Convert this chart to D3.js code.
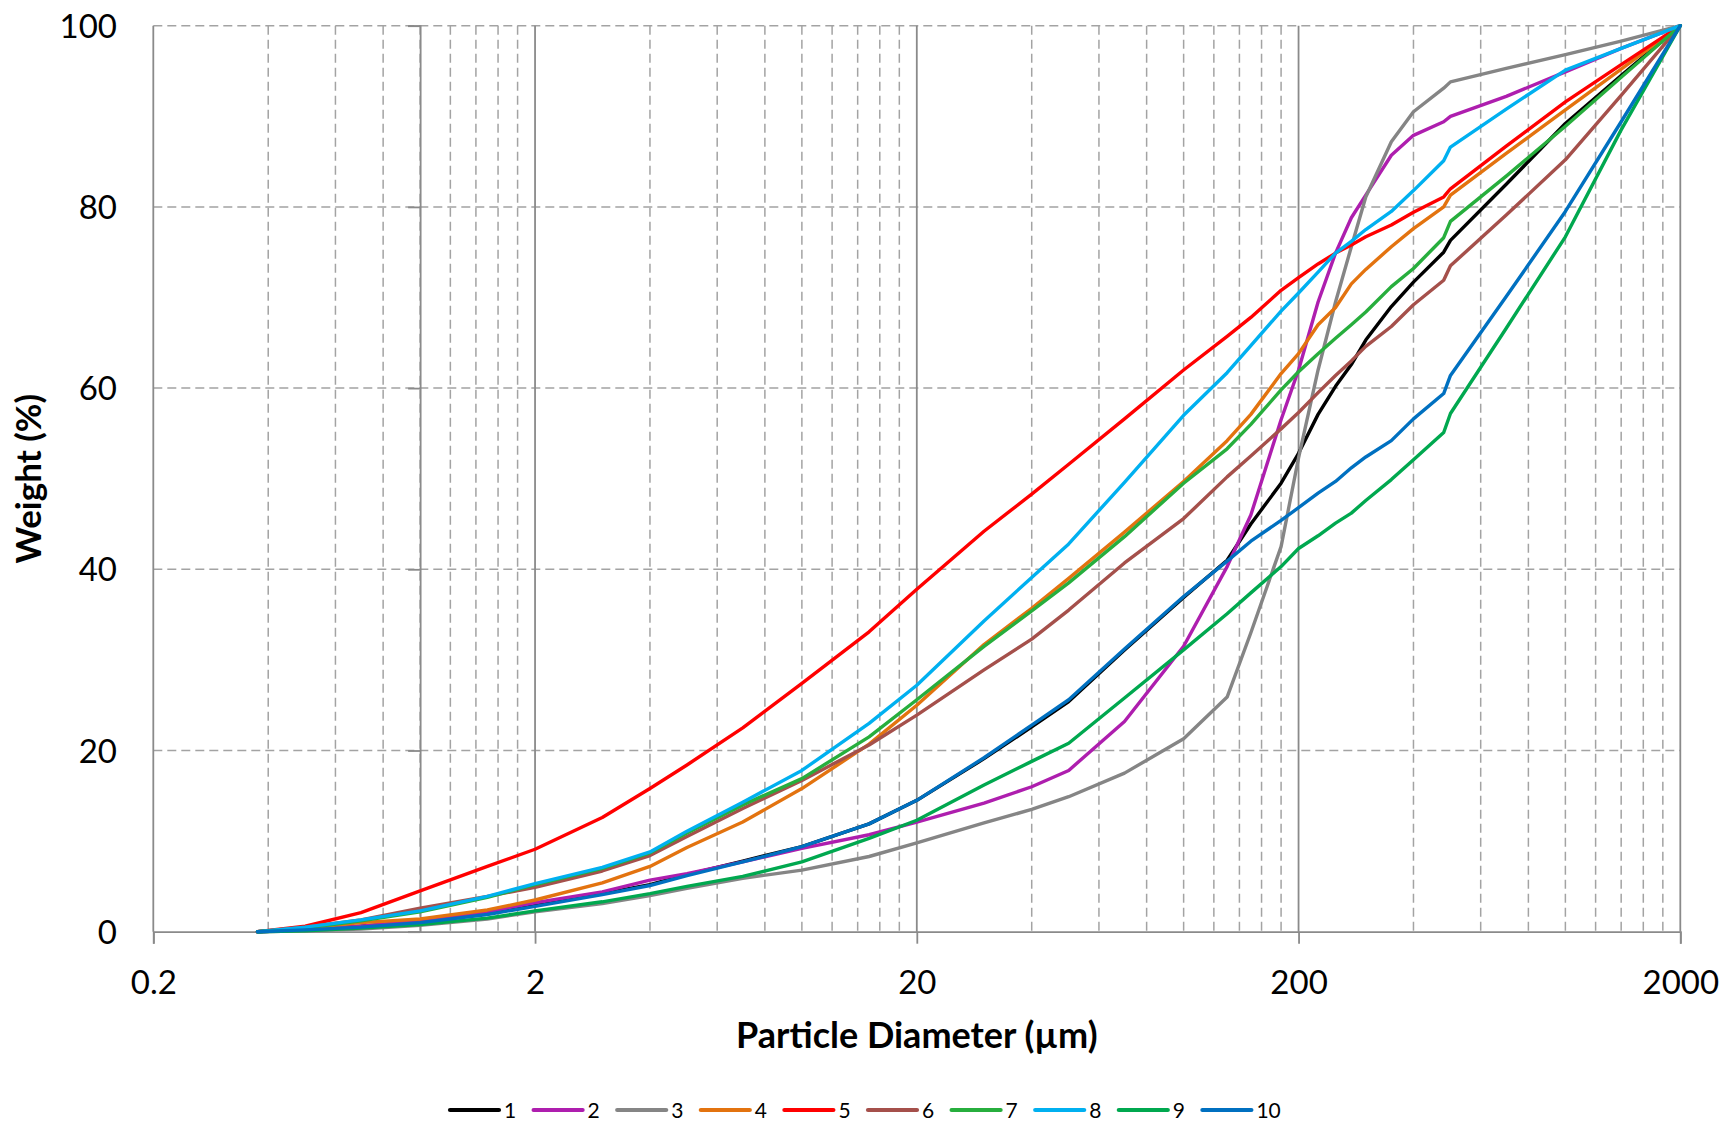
<!DOCTYPE html>
<html>
<head>
<meta charset="utf-8">
<script src="https://cdn.jsdelivr.net/npm/d3@7"></script>
<style>
  html, body { margin: 0; padding: 0; background: #ffffff; }
  svg { display: block; }
  text { font-family: Lato, "Open Sans", sans-serif; fill: #000; }
</style>
</head>
<body>
<svg id="chart" width="1729" height="1127"></svg>
<script>
// ---------------- data ----------------
const sizes = [0.375, 0.5, 0.7, 1, 1.5, 2, 3, 4, 5, 7, 10, 15, 20, 30, 40, 50, 70, 100, 130, 150, 180, 200, 225, 250, 275, 300, 350, 400, 480, 500, 700, 1000, 1400, 2000];

const s1  = [0, 0.2, 0.6, 1.1, 2.0, 2.9, 4.2, 5.2, 6.3, 7.8, 9.4, 11.9, 14.5, 19.1, 22.6, 25.4, 31.1, 36.9, 41.0, 45.0, 49.5, 52.8, 57.1, 60.2, 62.6, 65.3, 69.0, 71.7, 75.0, 76.3, 82.5, 89.2, 94.5, 100];
const s2  = [0, 0.2, 0.6, 1.2, 2.2, 3.2, 4.4, 5.7, 6.4, 7.7, 9.2, 10.7, 12.1, 14.2, 16.0, 17.8, 23.2, 31.5, 40.3, 46.0, 56.5, 62.0, 69.5, 74.9, 78.8, 81.3, 85.7, 87.9, 89.4, 90.0, 92.2, 94.9, 97.5, 100];
const s3  = [0, 0.1, 0.3, 0.7, 1.4, 2.2, 3.1, 4.0, 4.8, 5.9, 6.8, 8.3, 9.8, 12.0, 13.5, 14.9, 17.5, 21.3, 25.9, 33.0, 42.5, 52.3, 62.0, 69.5, 75.6, 81.1, 87.2, 90.5, 93.1, 93.8, 95.3, 96.8, 98.3, 100];
const s4  = [0, 0.4, 1.0, 1.4, 2.4, 3.5, 5.4, 7.2, 9.3, 12.1, 15.8, 20.7, 25.0, 31.7, 35.7, 39.0, 44.1, 49.7, 54.2, 57.1, 61.6, 63.8, 67.0, 68.9, 71.5, 73.1, 75.6, 77.6, 80.0, 81.3, 85.9, 90.7, 95.2, 100];
const s5  = [0, 0.6, 2.1, 4.5, 7.2, 9.1, 12.6, 15.8, 18.4, 22.5, 27.4, 33.1, 37.8, 44.2, 48.3, 51.6, 56.6, 62.0, 65.7, 67.8, 70.8, 72.2, 73.7, 74.9, 75.8, 76.7, 78.0, 79.4, 81.1, 82.0, 86.7, 91.6, 95.7, 100];
const s6  = [0, 0.5, 1.3, 2.6, 3.9, 4.9, 6.7, 8.4, 10.5, 13.6, 16.7, 20.6, 23.9, 28.9, 32.3, 35.5, 40.7, 45.6, 50.2, 52.5, 55.5, 57.3, 59.5, 61.4, 63.0, 64.6, 66.8, 69.2, 71.9, 73.5, 79.1, 85.2, 92.3, 100];
const s7  = [0, 0.4, 1.2, 2.2, 3.8, 5.2, 7.0, 8.7, 10.9, 14.0, 16.9, 21.5, 25.6, 31.5, 35.4, 38.5, 43.6, 49.5, 53.3, 56.0, 59.8, 61.8, 63.8, 65.5, 67.0, 68.4, 71.2, 73.2, 76.6, 78.4, 83.4, 88.9, 94.3, 100];
const s8  = [0, 0.5, 1.3, 2.3, 3.9, 5.3, 7.1, 8.8, 11.1, 14.3, 17.8, 23.0, 27.2, 34.3, 39.1, 42.8, 49.6, 57.0, 61.7, 64.7, 68.5, 70.5, 72.8, 74.9, 76.2, 77.5, 79.5, 81.8, 85.1, 86.6, 90.8, 95.1, 97.5, 100];
const s9  = [0, 0.1, 0.4, 0.8, 1.5, 2.3, 3.3, 4.2, 5.0, 6.1, 7.7, 10.3, 12.3, 16.2, 18.8, 20.8, 25.8, 31.1, 35.1, 37.4, 40.3, 42.3, 43.7, 45.1, 46.2, 47.6, 49.9, 52.1, 55.1, 57.2, 66.6, 76.7, 88.5, 100];
const s10 = [0, 0.2, 0.5, 1.0, 1.9, 2.8, 4.1, 5.1, 6.2, 7.7, 9.4, 11.9, 14.5, 19.2, 22.8, 25.6, 31.2, 37.0, 40.9, 43.1, 45.4, 46.8, 48.4, 49.7, 51.2, 52.4, 54.2, 56.6, 59.4, 61.4, 70.1, 79.5, 89.4, 100];

const seriesNames = ["1", "2", "3", "4", "5", "6", "7", "8", "9", "10"];
const seriesColors = ["#000000", "#AE1EAE", "#858585", "#E3730F", "#FF0000", "#A5504B", "#27AE3D", "#00B0F0", "#00A84F", "#0070C0"];
const seriesValues = [s1, s2, s3, s4, s5, s6, s7, s8, s9, s10];

const xMajorTicks = [0.2, 2, 20, 200, 2000];
const yTicks = [0, 20, 40, 60, 80, 100];
const xTitle = "Particle Diameter (µm)";
const yTitle = "Weight (%)";

// ---------------- layout ----------------
const svg = d3.select("#chart");
svg.append("rect").attr("width", 1729).attr("height", 1127).attr("fill", "#fff");

const plotL = 153.3, plotR = 1680.3, plotT = 25.7, plotB = 931.7;
const x = d3.scaleLog().domain([0.2, 2000]).range([plotL, plotR]);
const y = d3.scaleLinear().domain([0, 100]).range([plotB, plotT]);

const gridColor = "#A3A3A3";
const axisColor = "#8A8A8A";

// minor vertical gridlines (dashed)
const minor = [];
[0.2, 2, 20, 200].forEach(b => { for (let k = 2; k <= 9; k++) minor.push(b * k); });
svg.append("g").selectAll("line").data(minor).join("line")
  .attr("x1", d => x(d)).attr("x2", d => x(d))
  .attr("y1", y(100)).attr("y2", y(0))
  .attr("stroke", gridColor).attr("stroke-width", 1.5)
  .attr("stroke-dasharray", "9,5");

// horizontal gridlines (dashed)
svg.append("g").selectAll("line").data(yTicks.filter(d => d > 0)).join("line")
  .attr("x1", plotL).attr("x2", plotR)
  .attr("y1", d => y(d)).attr("y2", d => y(d))
  .attr("stroke", gridColor).attr("stroke-width", 1.5)
  .attr("stroke-dasharray", "9,5");

// major vertical gridlines (solid)
svg.append("g").selectAll("line").data(xMajorTicks).join("line")
  .attr("x1", d => x(d)).attr("x2", d => x(d))
  .attr("y1", y(100)).attr("y2", y(0))
  .attr("stroke", axisColor).attr("stroke-width", 1.8);

// x axis
const xAxis = d3.axisBottom(x).tickValues(xMajorTicks).tickSize(12)
  .tickFormat(d => String(d));
const gx = svg.append("g").attr("transform", `translate(0,${plotB})`).call(xAxis);
gx.select(".domain").attr("stroke", axisColor).attr("stroke-width", 1.8);
gx.selectAll(".tick line").attr("stroke", axisColor).attr("stroke-width", 1.8);
gx.selectAll(".tick text")
  .attr("y", 62.3).attr("dy", 0)
  .style("font-family", "Lato").style("font-size", "33px").attr("fill", "#000");

// y axis crossing at x = 1
const yAxis = d3.axisLeft(y).tickValues(yTicks).tickSize(12).tickFormat(d3.format("d"));
const gy = svg.append("g").attr("transform", `translate(${x(1)},0)`).call(yAxis);
gy.select(".domain").attr("stroke", axisColor).attr("stroke-width", 1.8);
gy.selectAll(".tick line").attr("stroke", axisColor).attr("stroke-width", 1.8);
gy.selectAll(".tick text")
  .attr("x", 117 - x(1)).attr("dy", "11.6")
  .attr("text-anchor", "end")
  .style("font-family", "Lato").style("font-size", "33px").attr("fill", "#000");

// series
const lineGen = d3.line()
  .x((d, i) => x(sizes[i]))
  .y(d => y(d));

svg.append("g").selectAll("path").data(seriesValues).join("path")
  .attr("d", d => lineGen(d))
  .attr("fill", "none")
  .attr("stroke", (d, i) => seriesColors[i])
  .attr("stroke-width", 3.4)
  .attr("stroke-linejoin", "round")
  .attr("stroke-linecap", "round");

// axis titles
svg.append("text")
  .attr("x", (plotL + plotR) / 2).attr("y", 1048)
  .attr("text-anchor", "middle")
  .style("font-weight", "bold").style("font-size", "36px")
  .text(xTitle);

svg.append("text")
  .attr("transform", `translate(41,${(plotT + plotB) / 2}) rotate(-90)`)
  .attr("text-anchor", "middle")
  .style("font-weight", "bold").style("font-size", "35px")
  .text(yTitle);

// legend
const legendStart = 450, legendPitch = 83.6, legendY = 1110;
const lg = svg.append("g").selectAll("g").data(seriesNames).join("g")
  .attr("transform", (d, i) => `translate(${legendStart + i * legendPitch},${legendY})`);
lg.append("line")
  .attr("x1", 0).attr("x2", 49).attr("y1", 0).attr("y2", 0)
  .attr("stroke", (d, i) => seriesColors[i]).attr("stroke-width", 4.2)
  .attr("stroke-linecap", "round");
lg.append("text")
  .attr("x", 54).attr("y", 7.5)
  .style("font-size", "21px")
  .text(d => d);
</script>
</body>
</html>
